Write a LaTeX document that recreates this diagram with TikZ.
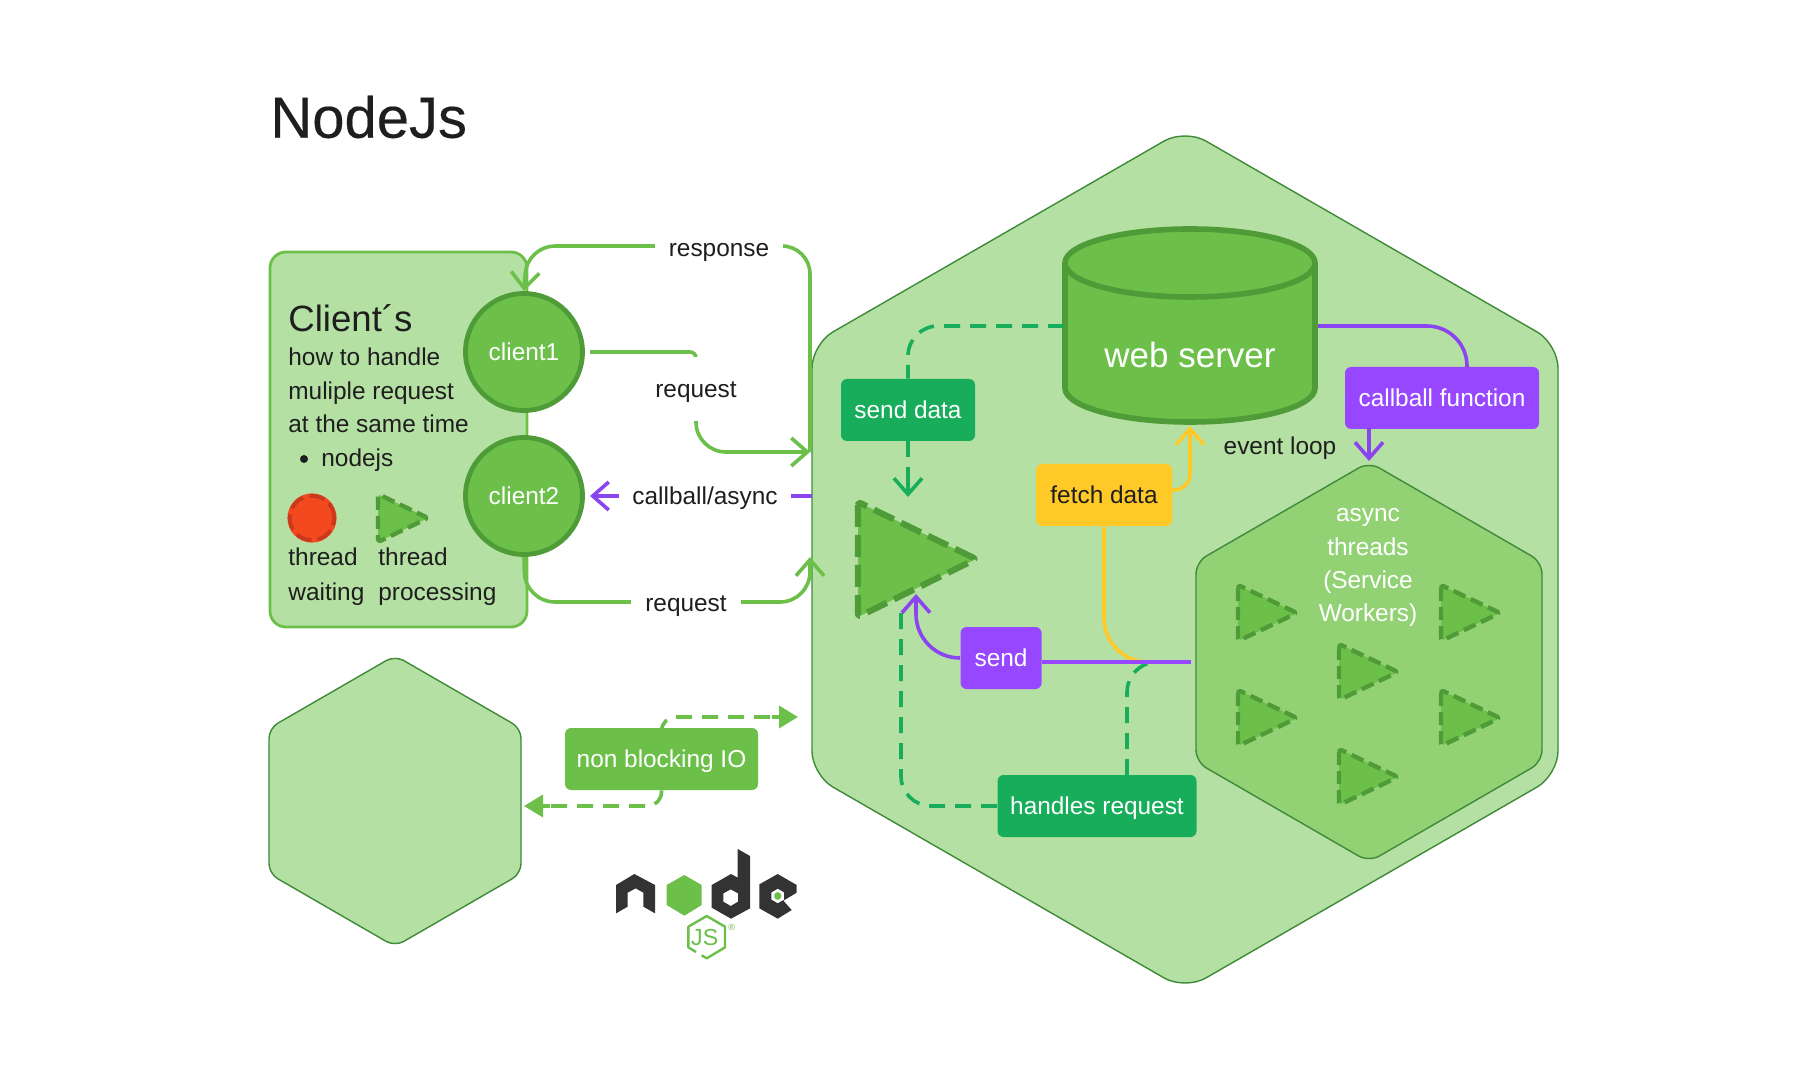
\documentclass[tikz,border=0pt]{standalone}
\usepackage{fontspec}
\setmainfont{Liberation Sans}
\newfontfamily\titlefont[FakeBold=0.25]{Liberation Sans}
\usetikzlibrary{arrows.meta}
\definecolor{pale}{HTML}{B5E0A3}
\definecolor{mid}{HTML}{92D275}
\definecolor{leaf}{HTML}{6CC04A}
\definecolor{dark}{HTML}{4F9B37}
\definecolor{edge}{HTML}{3F8A38}
\definecolor{teal}{HTML}{17AD5A}
\definecolor{violet}{HTML}{9747FF}
\definecolor{vline}{HTML}{8A44F0}
\definecolor{sun}{HTML}{FFCA28}
\definecolor{ink}{HTML}{1E1E1E}
\definecolor{logo}{HTML}{333333}
\definecolor{redf}{HTML}{F4481E}
\definecolor{redd}{HTML}{C93A1C}
\newcommand{\bodyfs}{\fontsize{12.2}{14}\selectfont}
\tikzset{
 x=.5pt,y=-.5pt,
 sized/.style={text height=10.6pt,text depth=2.4pt},
 txt/.style={sized,text=ink,inner sep=0pt,font=\bodyfs},
 ltxt/.style={txt,anchor=west},
 lab/.style={txt,fill=white,inner sep=0pt},
 hexa/.style={fill=pale,draw=edge,line width=.7pt,rounded corners=12pt},
 box/.style={sized,rounded corners=3pt,inner sep=0pt,text=white,font=\bodyfs},
 clientc/.style={sized,circle,fill=leaf,draw=dark,line width=2.4pt,minimum size=58.5pt,inner sep=0pt,text=white,font=\bodyfs},
 tri/.style={fill=leaf,draw=dark,line join=round,rounded corners=1.5pt,line width=3.1pt,dash pattern=on 11pt off 4pt},
 stri/.style={tri,line width=2.2pt,dash pattern=on 6.5pt off 3pt},
 conn/.style={line width=1.8pt},
 openarr/.style={-{Straight Barb[length=8pt,width=14pt]}},
 fillarr/.style={-{Triangle[length=9.5pt,width=11pt]}},
 dsh/.style={dash pattern=on 8pt off 5pt},
}
\begin{document}
\begin{tikzpicture}
\useasboundingbox (0,0) rectangle (1800,1080);
\fill[white] (0,0) rectangle (1800,1080);
\node[anchor=west,inner sep=0pt,text=ink,font=\titlefont\fontsize{29}{34}\selectfont] (title) at (270,117) {NodeJs};

% client panel
\draw[fill=pale,draw=leaf,line width=1.4pt,rounded corners=8pt] (270,252) rectangle (527,627);
\node[anchor=west,inner sep=0pt,text=ink,font=\fontsize{18.3}{20}\selectfont] (ctitle) at (288,318) {Client´s};
\node[ltxt] (t1) at (288,357) {how to handle};
\node[ltxt] (t2) at (288,391) {muliple request};
\node[ltxt] (t3) at (288,424) {at the same time};
\fill[ink] (304,459) circle (2pt);
\node[ltxt] (t4) at (321,458) {nodejs};
\fill[redf] (312,518) circle (12.3pt);
\draw[draw=redd,line width=1.9pt,dash pattern=on 8pt off 3pt] (312,518) circle (11.1pt);
\draw[stri] (378,494) -- (378,542) -- (428,518) -- cycle;
\node[ltxt] (t5) at (288,557) {thread};
\node[ltxt] (t6) at (288,592) {waiting};
\node[ltxt] (t7) at (378,557) {thread};
\node[ltxt] (t8) at (378,592) {processing};

% named free ends on the server hexagon
\coordinate (hexA) at (810,452);
\coordinate (hexB) at (810,557);
\coordinate (hexC) at (812,496);
\coordinate (hexD) at (810,452);

\node[clientc] (client1) at (524,352) {client1};
\node[clientc] (client2) at (524,496) {client2};

% big hexagon
\draw[hexa] (1185,129) -- (1558,344) -- (1558,775) -- (1185,990) -- (812,775) -- (812,344) -- cycle;
% inner hexagon
\draw[hexa,fill=mid,rounded corners=6pt] (1369,462) -- (1542,562) -- (1542,762) -- (1369,862) -- (1196,762) -- (1196,562) -- cycle;
% lower-left hexagon
\draw[hexa,rounded corners=5pt] (395,655.5) -- (521,728.3) -- (521,873.7) -- (395,946.5) -- (269,873.7) -- (269,728.3) -- cycle;

% connectors on the left
\draw[conn,leaf,openarr,rounded corners=14pt] (hexD) -- (810,246) -- (527,246) -- (client1.north);
\draw[conn,leaf,openarr] [rounded corners=3pt] (590,352) -- (696,352) [rounded corners=15pt] -- (696,452) -- (hexA);
\draw[conn,leaf,openarr,rounded corners=15pt] (client2.south) -- (525,602) -- (810,602) -- (hexB);
\draw[conn,vline,openarr] (hexC) -- (590,496);
\node[lab,minimum width=64pt,minimum height=16pt] (lresp) at (719,248) {response};
\node[lab,minimum width=60pt,minimum height=32pt] (lreq1) at (696,389) {request};
\node[lab,minimum width=86pt,minimum height=16pt] (lcb) at (705,496) {callball/async};
\node[lab,minimum width=55pt,minimum height=16pt] (lreq2) at (686,603) {request};

% web server
\draw[fill=leaf,draw=dark,line width=2.8pt] (1065,263) -- (1065,388) arc[start angle=180,end angle=360,x radius=125,y radius=-34] -- (1315,263);
\draw[fill=leaf,draw=dark,line width=2.8pt] (1190,263) ellipse[x radius=125,y radius=34];
\node[inner sep=0pt,text=white,font=\fontsize{17.5}{22}\selectfont] (web) at (1190,355) {web server};
\coordinate (webL) at (1064,326);
\coordinate (webR) at (1318,326);
\coordinate (webB) at (1190,426);

% boxes
\node[box,fill=teal,minimum width=67pt,minimum height=31pt] (senddata) at (908,410) {send data};
\node[box,fill=violet,minimum width=97pt,minimum height=31pt] (callb) at (1442,398) {callball function};
\node[box,fill=sun,text=ink,minimum width=68pt,minimum height=31pt] (fetch) at (1104,495) {fetch data};
\node[box,fill=violet,minimum width=40.5pt,minimum height=31pt] (send) at (1001,658) {send};
\node[box,fill=teal,minimum width=99.5pt,minimum height=31pt] (handles) at (1097,806) {handles request};
\node[box,fill=leaf,minimum width=96.5pt,minimum height=31pt] (nonblock) at (661.5,759) {non blocking IO};
\node[txt] (evl) at (1280,446) {event loop};

% big triangle
\coordinate (bigT) at (916,594);
\draw[tri] (858,502) -- (858,617) -- (976,559) -- cycle;
% small triangles
\foreach \px/\py in {1238/613,1441/613,1339/672,1238/718,1441/718,1339/777}{
 \draw[stri] (\px,\py-28) -- (\px,\py+28) -- (\px+59,\py) -- cycle;
}
% async text
\node[txt,text=white] (a1) at (1368,513) {async};
\node[txt,text=white] (a2) at (1368,547) {threads};
\node[txt,text=white] (a3) at (1368,580) {(Service};
\node[txt,text=white] (a4) at (1368,613) {Workers)};

% connectors on the right
\coordinate (asyncE) at (1191,662);
\coordinate (meet) at (1154,662);
\coordinate (meetY) at (1130,662);
\coordinate (tipA) at (908,497);
\coordinate (tipB) at (1369,461);
\coordinate (tipC) at (901,612);
\coordinate (fetchR) at (1172,490);
\coordinate (callbT) at (1467,367);
\coordinate (callbB) at (1369,428);
\draw[conn,teal,dsh,rounded corners=14pt] (1127,775) -- (1127,664) -- (meet);
\draw[conn,sun,rounded corners=22pt] (fetch.south) -- (1104,662) -- (meetY);
\draw[conn,violet] (asyncE) -- (asyncE -| send.east);
\draw[conn,vline,openarr,rounded corners=22pt] (send.west) -- (916,658) -- (bigT);
\draw[conn,teal,dsh,rounded corners=15pt] (handles.west) -- (901,806) -- (tipC);
\draw[conn,sun,openarr,rounded corners=8pt] (fetchR) -- (1190,490) -- (webB);
\draw[conn,teal,dsh,rounded corners=15pt] (webL) -- (908,326) -- (senddata.north);
\draw[conn,teal,dsh] (senddata.south) -- (908,480);
\draw[conn,teal,openarr] (908,478) -- (tipA);
\draw[conn,vline,rounded corners=20pt] (webR) -- (1467,326) -- (callbT);
\draw[conn,vline,openarr] (callbB) -- (tipB);

% non blocking connectors
\coordinate (nbR) at (798,717);
\coordinate (nbL) at (524,806);
\draw[conn,leaf,dsh,rounded corners=7pt] (nonblock.north) -- (661.5,717) -- (780,717);
\draw[conn,leaf,fillarr] (772,717) -- (nbR);
\draw[conn,leaf,dsh,rounded corners=7pt] (nonblock.south) -- (661.5,806) -- (545,806);
\draw[conn,leaf,fillarr] (550,806) -- (nbL);

% logo
\begin{scope}[shift={(590,830)},x=.1667pt,y=-.1667pt]
\fill[logo] (78,165) -- (133,132) -- (195,165) -- (195,250) -- (160,230) -- (160,188) -- (137,175) -- (113,188) -- (113,230) -- (78,250) -- cycle;
\fill[leaf] (283,135) -- (335,165) -- (335,225) -- (283,257) -- (230,225) -- (230,165) -- cycle;
\fill[logo,even odd rule] (443,57) -- (480,78) -- (480,235) -- (423,266) -- (365,233) -- (365,165) -- (423,132) -- (443,143) -- cycle (422,178) -- (444,190) -- (444,215) -- (422,228) -- (400,215) -- (400,190) -- cycle;
\fill[logo,even odd rule] (563,132) -- (620,165) -- (620,188) -- (580,212) -- (605,240) -- (563,266) -- (508,235) -- (508,163) -- cycle (563,176) -- (582,187) -- (582,209) -- (563,220) -- (544,209) -- (544,187) -- cycle;
\fill[leaf] (563,186) -- (573,192) -- (573,204) -- (563,210) -- (553,204) -- (553,192) -- cycle;
\draw[leaf,line width=1.2pt,line join=round] (335,376) -- (350,385) -- (405,352) -- (405,290) -- (350,258) -- (295,290) -- (295,352) -- (318,366);
\node[inner sep=0pt,text=leaf,font=\fontsize{11.6}{12}\selectfont] (js) at (344,323) {JS};
\node[inner sep=0pt,text=leaf,font=\fontsize{4.5}{5}\selectfont] (reg) at (425,293) {®};
\end{scope}
\end{tikzpicture}
\end{document}
